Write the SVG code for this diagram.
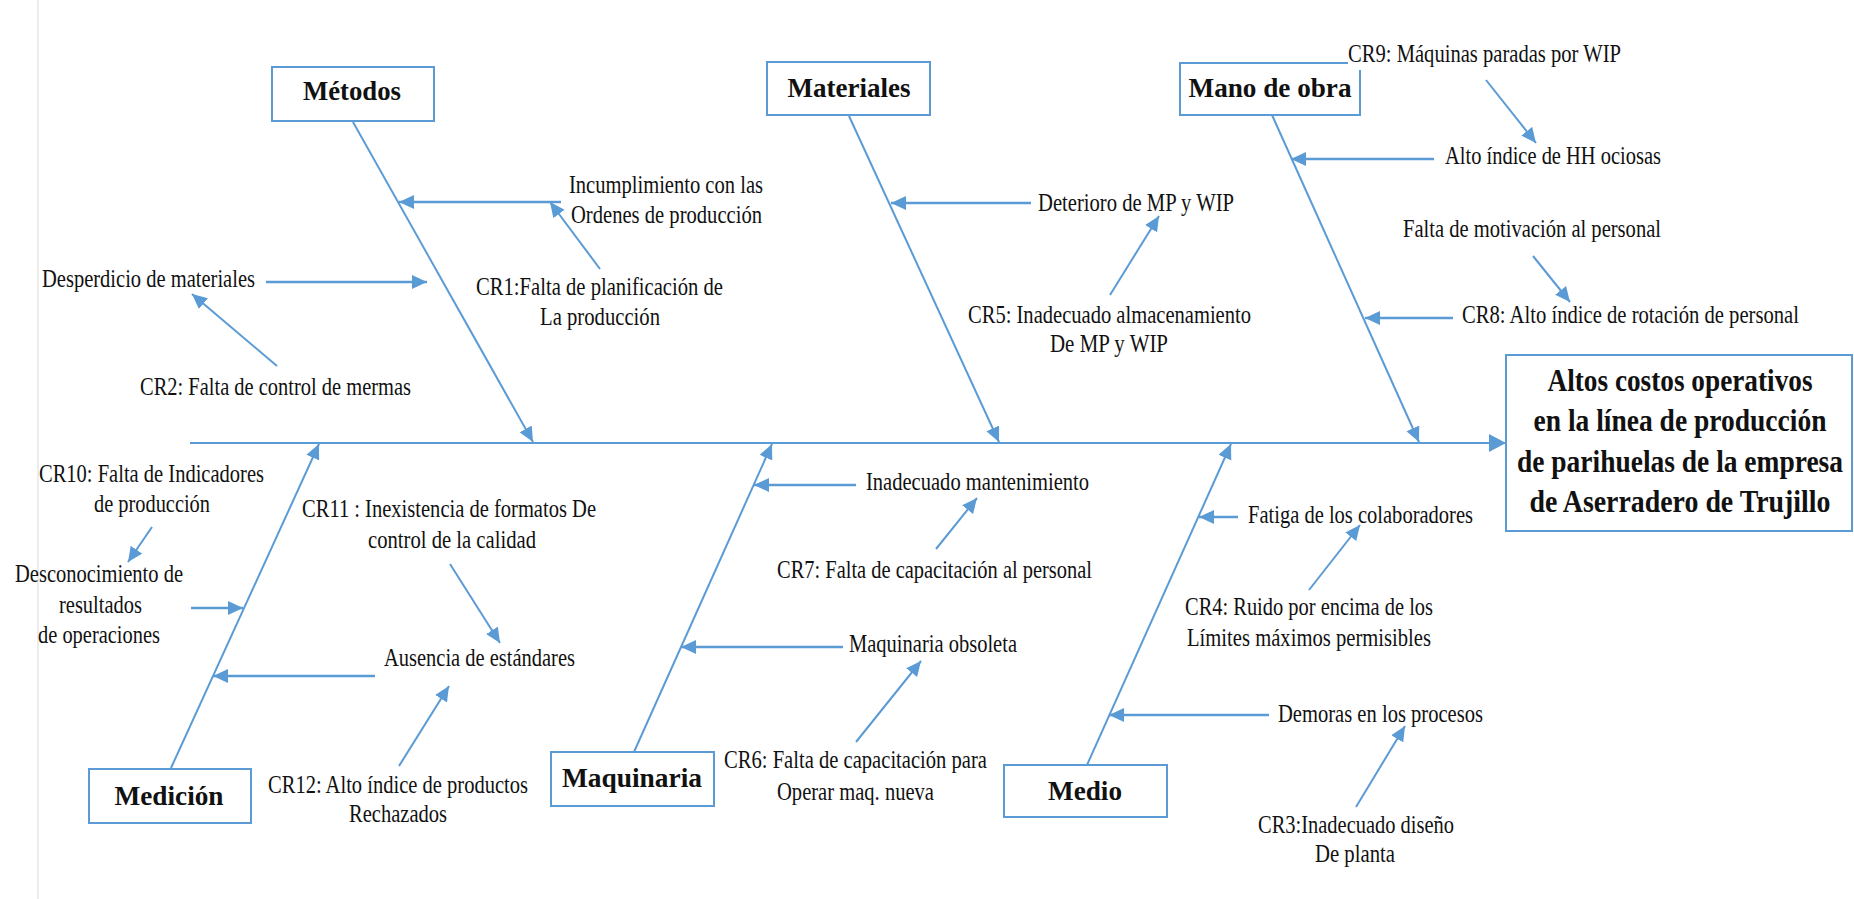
<svg xmlns="http://www.w3.org/2000/svg" width="1854" height="899" viewBox="0 0 1854 899">
<style>
.t{font-family:"Liberation Serif","Times New Roman",serif;font-size:25px;fill:#111}
.b{font-family:"Liberation Serif","Times New Roman",serif;font-size:28px;font-weight:bold;fill:#111;text-anchor:middle}
.m{font-size:31px}
.box{fill:#fff;stroke:#5B9BD5;stroke-width:2}
.bone{stroke:#5B9BD5;stroke-width:2;fill:none}
.ar{stroke:#5B9BD5;stroke-width:2.5;fill:none}
.dg{stroke:#5B9BD5;stroke-width:2;fill:none}
</style>
<defs>
<marker id="ah" markerUnits="userSpaceOnUse" markerWidth="16" markerHeight="16" refX="15" refY="7" orient="auto">
<path d="M0,0 L15,7 L0,14 z" fill="#5B9BD5"/>
</marker>
<marker id="ahL" markerUnits="userSpaceOnUse" markerWidth="18" markerHeight="20" refX="17" refY="9" orient="auto">
<path d="M0,0 L17,9 L0,18 z" fill="#5B9BD5"/>
</marker>
</defs>
<rect width="1854" height="899" fill="#fff"/>
<line x1="38" y1="0" x2="38" y2="899" stroke="#ececec" stroke-width="2"/>

<g id="connectors">
<line class="bone" x1="190" y1="443" x2="1506" y2="443" stroke-width="3" marker-end="url(#ahL)"/>
<line class="bone" x1="353" y1="122" x2="533" y2="442" marker-end="url(#ah)"/>
<line class="bone" x1="849" y1="116" x2="999" y2="442" marker-end="url(#ah)"/>
<line class="bone" x1="1272" y1="115" x2="1419" y2="442" marker-end="url(#ah)"/>
<line class="bone" x1="171" y1="768" x2="319" y2="444" marker-end="url(#ah)"/>
<line class="bone" x1="634" y1="752" x2="772" y2="444" marker-end="url(#ah)"/>
<line class="bone" x1="1087" y1="765" x2="1231" y2="444" marker-end="url(#ah)"/>
<line class="ar" x1="561" y1="202" x2="399" y2="202" marker-end="url(#ah)"/>
<line class="dg" x1="600" y1="269" x2="550" y2="202" marker-end="url(#ah)"/>
<line class="ar" x1="266" y1="282" x2="427" y2="282" marker-end="url(#ah)"/>
<line class="dg" x1="277" y1="366" x2="192" y2="294" marker-end="url(#ah)"/>
<line class="ar" x1="1031" y1="203" x2="891" y2="203" marker-end="url(#ah)"/>
<line class="dg" x1="1110" y1="295" x2="1159" y2="216" marker-end="url(#ah)"/>
<line class="ar" x1="1434" y1="159" x2="1291" y2="159" marker-end="url(#ah)"/>
<line class="dg" x1="1486" y1="80" x2="1536" y2="143" marker-end="url(#ah)"/>
<line class="dg" x1="1533" y1="256" x2="1570" y2="302" marker-end="url(#ah)"/>
<line class="ar" x1="1453" y1="318" x2="1365" y2="318" marker-end="url(#ah)"/>
<line class="dg" x1="152" y1="527" x2="128" y2="562" marker-end="url(#ah)"/>
<line class="ar" x1="191" y1="608" x2="243" y2="608" marker-end="url(#ah)"/>
<line class="dg" x1="450" y1="564" x2="500" y2="643" marker-end="url(#ah)"/>
<line class="ar" x1="375" y1="676" x2="213" y2="676" marker-end="url(#ah)"/>
<line class="dg" x1="399" y1="766" x2="449" y2="686" marker-end="url(#ah)"/>
<line class="ar" x1="856" y1="485" x2="754" y2="485" marker-end="url(#ah)"/>
<line class="dg" x1="936" y1="549" x2="977" y2="498" marker-end="url(#ah)"/>
<line class="ar" x1="843" y1="647" x2="681" y2="647" marker-end="url(#ah)"/>
<line class="dg" x1="856" y1="742" x2="921" y2="661" marker-end="url(#ah)"/>
<line class="ar" x1="1238" y1="517" x2="1199" y2="517" marker-end="url(#ah)"/>
<line class="dg" x1="1309" y1="590" x2="1360" y2="525" marker-end="url(#ah)"/>
<line class="ar" x1="1269" y1="715" x2="1109" y2="715" marker-end="url(#ah)"/>
<line class="dg" x1="1356" y1="807" x2="1405" y2="726" marker-end="url(#ah)"/>
</g>

<g id="efecto">
<rect class="box" x="1506" y="355" width="346" height="176"/>
<text class="b m" x="1680" y="391" textLength="265" lengthAdjust="spacingAndGlyphs">Altos costos operativos</text>
<text class="b m" x="1680" y="431" textLength="293" lengthAdjust="spacingAndGlyphs">en la línea de producción</text>
<text class="b m" x="1680" y="472" textLength="326" lengthAdjust="spacingAndGlyphs">de parihuelas de la empresa</text>
<text class="b m" x="1680" y="512" textLength="301" lengthAdjust="spacingAndGlyphs">de Aserradero de Trujillo</text>
</g>

<g id="metodos">
<rect class="box" x="272" y="67" width="162" height="54"/>
<text class="b" x="352" y="100" textLength="98" lengthAdjust="spacingAndGlyphs">Métodos</text>
<text class="t" x="569" y="193" textLength="194" lengthAdjust="spacingAndGlyphs">Incumplimiento con las</text>
<text class="t" x="571" y="223" textLength="191" lengthAdjust="spacingAndGlyphs">Ordenes de producción</text>
<text class="t" x="476" y="295" textLength="247" lengthAdjust="spacingAndGlyphs">CR1:Falta de planificación de</text>
<text class="t" x="540" y="325" textLength="120" lengthAdjust="spacingAndGlyphs">La producción</text>
<text class="t" x="42" y="287" textLength="213" lengthAdjust="spacingAndGlyphs">Desperdicio de materiales</text>
<text class="t" x="140" y="395" textLength="271" lengthAdjust="spacingAndGlyphs">CR2: Falta de control de mermas</text>
</g>

<g id="materiales">
<rect class="box" x="767" y="62" width="163" height="53"/>
<text class="b" x="849" y="97" textLength="123" lengthAdjust="spacingAndGlyphs">Materiales</text>
<text class="t" x="1038" y="211" textLength="196" lengthAdjust="spacingAndGlyphs">Deterioro de MP y WIP</text>
<text class="t" x="968" y="323" textLength="283" lengthAdjust="spacingAndGlyphs">CR5: Inadecuado almacenamiento</text>
<text class="t" x="1050" y="352" textLength="118" lengthAdjust="spacingAndGlyphs">De MP y WIP</text>
</g>

<g id="mano-de-obra">
<rect class="box" x="1180" y="63" width="180" height="52"/>
<text class="b" x="1270" y="97" textLength="163" lengthAdjust="spacingAndGlyphs">Mano de obra</text>
<rect x="1348" y="38" width="278" height="32" fill="#fff"/>
<text class="t" x="1348" y="62" textLength="273" lengthAdjust="spacingAndGlyphs">CR9: Máquinas paradas por WIP</text>
<text class="t" x="1445" y="164" textLength="216" lengthAdjust="spacingAndGlyphs">Alto índice de HH ociosas</text>
<text class="t" x="1403" y="237" textLength="258" lengthAdjust="spacingAndGlyphs">Falta de motivación al personal</text>
<text class="t" x="1462" y="323" textLength="337" lengthAdjust="spacingAndGlyphs">CR8: Alto índice de rotación de personal</text>
</g>

<g id="medicion">
<rect class="box" x="89" y="769" width="162" height="54"/>
<text class="b" x="169" y="805" textLength="109" lengthAdjust="spacingAndGlyphs">Medición</text>
<text class="t" x="39" y="482" textLength="225" lengthAdjust="spacingAndGlyphs">CR10: Falta de Indicadores</text>
<text class="t" x="94" y="512" textLength="116" lengthAdjust="spacingAndGlyphs">de producción</text>
<text class="t" x="15" y="582" textLength="168" lengthAdjust="spacingAndGlyphs">Desconocimiento de</text>
<text class="t" x="59" y="613" textLength="83" lengthAdjust="spacingAndGlyphs">resultados</text>
<text class="t" x="38" y="643" textLength="122" lengthAdjust="spacingAndGlyphs">de operaciones</text>
<text class="t" x="302" y="517" textLength="294" lengthAdjust="spacingAndGlyphs">CR11 : Inexistencia de formatos De</text>
<text class="t" x="368" y="548" textLength="168" lengthAdjust="spacingAndGlyphs">control de la calidad</text>
<text class="t" x="384" y="666" textLength="191" lengthAdjust="spacingAndGlyphs">Ausencia de estándares</text>
<text class="t" x="268" y="793" textLength="260" lengthAdjust="spacingAndGlyphs">CR12: Alto índice de productos</text>
<text class="t" x="349" y="822" textLength="98" lengthAdjust="spacingAndGlyphs">Rechazados</text>
</g>

<g id="maquinaria">
<rect class="box" x="551" y="752" width="163" height="54"/>
<text class="b" x="632" y="787" textLength="140" lengthAdjust="spacingAndGlyphs">Maquinaria</text>
<text class="t" x="866" y="490" textLength="223" lengthAdjust="spacingAndGlyphs">Inadecuado mantenimiento</text>
<text class="t" x="777" y="578" textLength="315" lengthAdjust="spacingAndGlyphs">CR7: Falta de capacitación al personal</text>
<text class="t" x="849" y="652" textLength="168" lengthAdjust="spacingAndGlyphs">Maquinaria obsoleta</text>
<text class="t" x="724" y="768" textLength="263" lengthAdjust="spacingAndGlyphs">CR6: Falta de capacitación para</text>
<text class="t" x="777" y="800" textLength="157" lengthAdjust="spacingAndGlyphs">Operar maq. nueva</text>
</g>

<g id="medio">
<rect class="box" x="1004" y="765" width="163" height="52"/>
<text class="b" x="1085" y="800" textLength="74" lengthAdjust="spacingAndGlyphs">Medio</text>
<text class="t" x="1248" y="523" textLength="225" lengthAdjust="spacingAndGlyphs">Fatiga de los colaboradores</text>
<text class="t" x="1185" y="615" textLength="248" lengthAdjust="spacingAndGlyphs">CR4: Ruido por encima de los</text>
<text class="t" x="1187" y="646" textLength="244" lengthAdjust="spacingAndGlyphs">Límites máximos permisibles</text>
<text class="t" x="1278" y="722" textLength="205" lengthAdjust="spacingAndGlyphs">Demoras en los procesos</text>
<text class="t" x="1258" y="833" textLength="196" lengthAdjust="spacingAndGlyphs">CR3:Inadecuado diseño</text>
<text class="t" x="1315" y="862" textLength="80" lengthAdjust="spacingAndGlyphs">De planta</text>
</g>
</svg>
